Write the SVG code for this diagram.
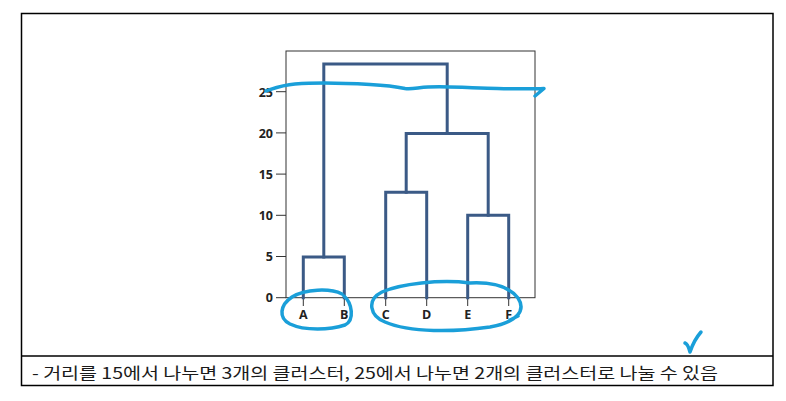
<svg xmlns="http://www.w3.org/2000/svg" width="786" height="401" viewBox="0 0 786 401">
<style>
.frame{fill:none;stroke:#000;stroke-width:1.5}
.link{fill:none;stroke:#3b5a86;stroke-width:3;stroke-linejoin:miter;stroke-linecap:square}
.axis{fill:none;stroke:#333;stroke-width:1}
.tick{stroke:#333;stroke-width:1}
.tl{font-family:"Open Sans","Noto Sans",sans-serif;font-weight:700;font-size:12.5px;fill:#222;text-anchor:end}
.leaf{font-family:"Open Sans","Noto Sans",sans-serif;font-weight:700;font-size:12.5px;fill:#222;text-anchor:middle}
.ink{fill:none;stroke:#1a9fd9;stroke-width:3.5;stroke-linecap:round;stroke-linejoin:round}
.note{font-family:"Noto Sans CJK KR","Noto Sans",sans-serif;font-size:16px;fill:#1a1a1a}
</style>
<rect id="frame" class="frame" x="21.5" y="13.5" width="751.5" height="372"/>
<line class="frame" x1="21.5" y1="356" x2="773" y2="356"/>
<g id="plot">
<rect class="axis" x="286" y="51" width="249" height="246.7"/>
<g id="ticks">
<line class="tick" x1="276" y1="297.7" x2="286" y2="297.7"/>
<line class="tick" x1="276" y1="256.5" x2="286" y2="256.5"/>
<line class="tick" x1="276" y1="215.3" x2="286" y2="215.3"/>
<line class="tick" x1="276" y1="174.1" x2="286" y2="174.1"/>
<line class="tick" x1="276" y1="132.9" x2="286" y2="132.9"/>
<line class="tick" x1="276" y1="91.7" x2="286" y2="91.7"/>
<text class="tl" x="273" y="302">0</text>
<text class="tl" x="273" y="261">5</text>
<text class="tl" x="273" y="220">10</text>
<text class="tl" x="273" y="178.5">15</text>
<text class="tl" x="273" y="137.5">20</text>
<text class="tl" x="273" y="96.5">25</text>
</g>
<g id="leafticks">
<line class="tick" x1="303.3" y1="297.7" x2="303.3" y2="306"/>
<line class="tick" x1="344.3" y1="297.7" x2="344.3" y2="306"/>
<line class="tick" x1="385.7" y1="297.7" x2="385.7" y2="306"/>
<line class="tick" x1="426.7" y1="297.7" x2="426.7" y2="306"/>
<line class="tick" x1="467.7" y1="297.7" x2="467.7" y2="306"/>
<line class="tick" x1="508.7" y1="297.7" x2="508.7" y2="306"/>
</g>
</g>
<g id="connectors">
<path class="link" d="M303.3 297.7V257H344.3V297.7"/>
<path class="link" d="M385.7 297.7V192.3H426.7V297.7"/>
<path class="link" d="M467.7 297.7V215.3H508.7V297.7"/>
<path class="link" d="M406.2 192.3V133.5H488.2V215.3"/>
<path class="link" d="M323.8 257V64H447.2V133.5"/>
</g>
<g id="node-A"><text class="leaf" x="303.3" y="318.5">A</text></g>
<g id="node-B"><text class="leaf" x="344.3" y="318.5">B</text></g>
<g id="node-C"><text class="leaf" x="385.7" y="318.5">C</text></g>
<g id="node-D"><text class="leaf" x="426.7" y="318.5">D</text></g>
<g id="node-E"><text class="leaf" x="467.7" y="318.5">E</text></g>
<g id="node-F"><text class="leaf" x="508.7" y="318.5">F</text></g>
<g id="annotations">
<path class="ink" d="M266 91 C275 88 282 85 295 84 C320 82 345 83 370 84.5 C390 85.5 398 87 405 88.5 C412 89.5 418 87.5 428 87 C445 86 460 87.5 480 88 C505 88.5 525 89.5 544 88.5 L535 96"/>
<path class="ink" d="M342 294 C330 288 305 289 292 297 C280 305 278 318 290 324 C305 331 330 330 345 325 C355 320 352 303 344 296"/>
<path class="ink" d="M470 283 C440 279 400 284 382 292 C366 300 370 316 385 322 C410 333 455 332 490 327 C518 322 526 310 518 298 C508 285 490 282 470 283 M518 316 L510 320"/>
<path class="ink" d="M685 343 Q688 344 690 352 Q694 340 701 332" stroke-width="4"/>
</g>
<text class="note" x="32" y="379" textLength="686" lengthAdjust="spacingAndGlyphs">- 거리를 15에서 나누면 3개의 클러스터, 25에서 나누면 2개의 클러스터로 나눌 수 있음</text>
</svg>
